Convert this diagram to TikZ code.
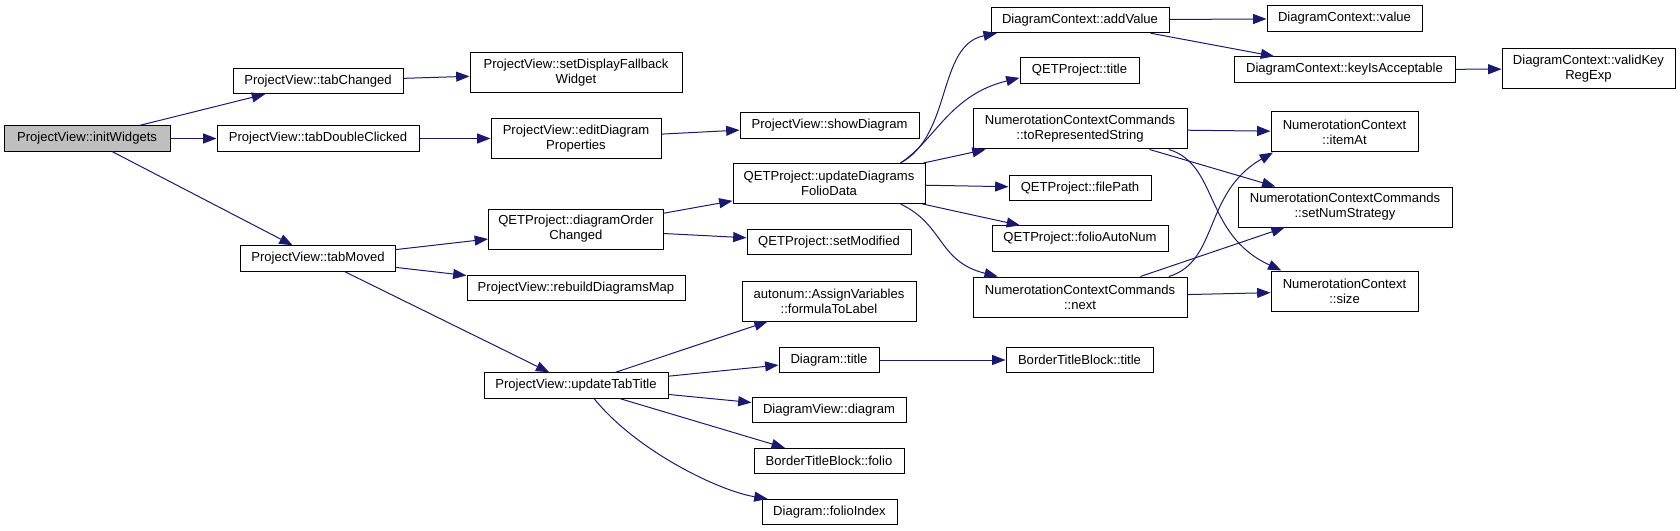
\documentclass[tikz,border=0pt]{standalone}
\usepackage{fontspec}
\setmainfont{Liberation Sans}
\usetikzlibrary{arrows.meta}
\definecolor{edgeblue}{HTML}{191970}
\definecolor{rootgray}{HTML}{BFBFBF}

\begin{document}
\begin{tikzpicture}[x=0.75pt, y=-0.75pt,
    fn/.style={draw=black, line width=0.75pt, fill=white, inner sep=0pt, align=center,
        minimum height=19pt, font=\fontsize{9.8}{11.25}\selectfont},
    twoline/.style={minimum height=30pt},
    call/.style={draw=edgeblue, line width=0.75pt, -{Triangle[length=10pt, width=7.5pt]}}]
    \useasboundingbox (0,0) rectangle (1680,531);

    % Caller at the root of the graph
    \node[fn, fill=rootgray, minimum width=124.5pt] (pvinit) at (87,138.5) {ProjectView::initWidgets};

    % First level
    \node[fn, minimum width=127.5pt] (pvtabchanged) at (318,81) {ProjectView::tabChanged};
    \node[fn, minimum width=151.5pt] (pvdouble) at (318,138.5) {ProjectView::tabDoubleClicked};
    \node[fn, minimum width=116.25pt] (pvmoved) at (318,258.5) {ProjectView::tabMoved};

    % Second level
    \node[fn, twoline, minimum width=159pt] (pvfallback) at (576,73) {ProjectView::setDisplayFallback\\Widget};
    \node[fn, twoline, minimum width=127.5pt] (pveditprops) at (576,138.5) {ProjectView::editDiagram\\Properties};
    \node[fn, twoline, minimum width=131.25pt] (qorder) at (576,229) {QETProject::diagramOrder\\Changed};
    \node[fn, minimum width=163.5pt] (pvrebuild) at (576,288) {ProjectView::rebuildDiagramsMap};
    \node[fn, minimum width=138pt] (pvupdatetab) at (576,385.5) {ProjectView::updateTabTitle};

    % Third level
    \node[fn, minimum width=134.25pt] (pvshow) at (829.5,125.5) {ProjectView::showDiagram};
    \node[fn, twoline, minimum width=144pt] (qupdate) at (829,183.5) {QETProject::updateDiagrams\\FolioData};
    \node[fn, minimum width=123pt] (qsetmod) at (829,242) {QETProject::setModified};
    \node[fn, twoline, minimum width=130.5pt] (aformula) at (829,301) {autonum::AssignVariables\\::formulaToLabel};
    \node[fn, minimum width=75pt] (dtitle) at (829,360) {Diagram::title};
    \node[fn, minimum width=115.5pt] (dvdiagram) at (829,410) {DiagramView::diagram};
    \node[fn, minimum width=112.5pt] (btfolio) at (829,461) {BorderTitleBlock::folio};
    \node[fn, minimum width=101.25pt] (dfolioidx) at (829.5,512) {Diagram::folioIndex};

    % Fourth level
    \node[fn, minimum width=133.5pt] (dcadd) at (1080,20) {DiagramContext::addValue};
    \node[fn, minimum width=89.25pt] (qtitle) at (1079.5,70.5) {QETProject::title};
    \node[fn, twoline, minimum width=160.5pt] (nctostr) at (1080,129) {NumerotationContextCommands\\::toRepresentedString};
    \node[fn, minimum width=106.5pt] (qfilepath) at (1080,188) {QETProject::filePath};
    \node[fn, minimum width=132pt] (qautonum) at (1080,238.5) {QETProject::folioAutoNum};
    \node[fn, twoline, minimum width=160.5pt] (ncnext) at (1080,297) {NumerotationContextCommands\\::next};
    \node[fn, minimum width=110.25pt] (bttitle) at (1079.5,360) {BorderTitleBlock::title};

    % Fifth and sixth level
    \node[fn, minimum width=116.25pt] (dcvalue) at (1344.5,18.5) {DiagramContext::value};
    \node[fn, minimum width=165.75pt] (dckey) at (1344.5,69.5) {DiagramContext::keyIsAcceptable};
    \node[fn, twoline, minimum width=110.25pt] (ncitem) at (1344.5,132) {NumerotationContext\\::itemAt};
    \node[fn, twoline, minimum width=160.5pt] (ncstrategy) at (1345,207) {NumerotationContextCommands\\::setNumStrategy};
    \node[fn, twoline, minimum width=110.25pt] (ncsize) at (1344.5,291) {NumerotationContext\\::size};
    \node[fn, twoline, minimum width=129.75pt] (dcregexp) at (1588.5,69) {DiagramContext::validKey\\RegExp};

    % Calls from the root
    \draw[call] (pvinit) -- (pvtabchanged);
    \draw[call] (pvinit) -- (pvdouble);
    \draw[call] (pvinit) -- (pvmoved);
    \draw[call] (pvtabchanged) -- (pvfallback);
    \draw[call] (pvdouble) -- (pveditprops);
    \draw[call] (pveditprops) -- (pvshow);
    \draw[call] (pvmoved) -- (qorder);
    \draw[call] (pvmoved) -- (pvrebuild);
    \draw[call] (pvmoved) -- (pvupdatetab);
    \draw[call] (qorder) -- (qupdate);
    \draw[call] (qorder) -- (qsetmod);

    % Calls from updateTabTitle
    \draw[call] (pvupdatetab) -- (aformula);
    \draw[call] (pvupdatetab) -- (dtitle);
    \draw[call] (pvupdatetab) -- (dvdiagram);
    \draw[call] (pvupdatetab) -- (btfolio);
    \draw[call] (pvupdatetab.324) .. controls +(42,52) and +(-49,-8) .. (dfolioidx.168);
    \draw[call] (dtitle) -- (bttitle);

    % Calls from updateDiagramsFolioData
    \draw[call] (qupdate.16) .. controls +(52,-28) and +(-60,12) .. (dcadd.189);
    \draw[call] (qupdate.16) .. controls +(35,-23) and +(-70,17) .. (qtitle.187);
    \draw[call] (qupdate) -- (nctostr);
    \draw[call] (qupdate) -- (qfilepath);
    \draw[call] (qupdate) -- (qautonum);
    \draw[call] (qupdate.344) .. controls +(44,21) and +(-60,-15) .. (ncnext.166);

    % Deeper calls
    \draw[call] (dcadd) -- (dcvalue);
    \draw[call] (dcadd) -- (dckey);
    \draw[call] (dckey) -- (dcregexp);
    \draw[call] (nctostr) -- (ncitem);
    \draw[call] (nctostr) -- (ncstrategy);
    \draw[call] (nctostr.347) .. controls +(50,15) and +(-78,-36) .. (ncsize.162);
    \draw[call] (ncnext.13) .. controls +(50,-15) and +(-70,40) .. (ncitem.196);
    \draw[call] (ncnext) -- (ncstrategy);
    \draw[call] (ncnext) -- (ncsize);
\end{tikzpicture}
\end{document}
